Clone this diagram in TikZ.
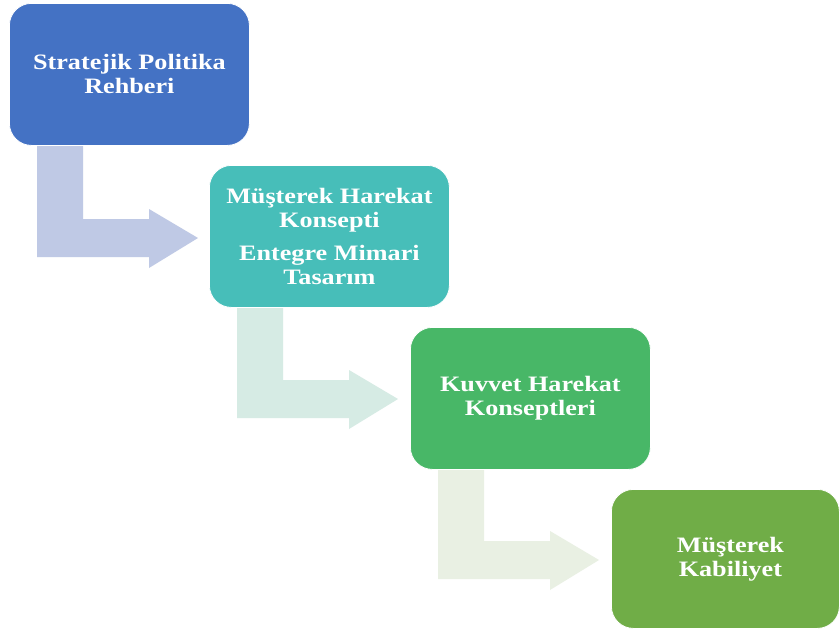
\documentclass[tikz,border=0pt]{standalone}
\usepackage{fontspec}
\setmainfont{Liberation Serif}
\definecolor{cBlue}{HTML}{4472C4}
\definecolor{cTeal}{HTML}{47BEB9}
\definecolor{cGreen}{HTML}{48B767}
\definecolor{cLeaf}{HTML}{70AD47}
\definecolor{aBlue}{HTML}{BFC9E5}
\definecolor{aTeal}{HTML}{D6EBE4}
\definecolor{aLeaf}{HTML}{E9F0E3}
\newcommand\wideline[1]{\scalebox{1.19}[1]{#1}}
\newcommand\pushline[1]{\hspace*{10pt}\scalebox{1.19}[1]{#1}}
\tikzset{
  stage/.style={rounded corners=22pt, draw=white, line width=0.8pt, fill=#1,
    minimum width=240pt, minimum height=142pt, anchor=north west,
    text=white, align=center, font=\bfseries\fontsize{22}{24}\selectfont, inner sep=0pt},
  bentarrow/.style={fill=#1, draw=none}
}
\begin{document}
\begin{tikzpicture}[x=1pt,y=-1pt]
\useasboundingbox (0,0) rectangle (840,632);
\fill[white] (0,0) rectangle (840,632);
% arrows (behind boxes)
\foreach \dx/\dy/\col in {0/0/aBlue,200/161/aTeal,401/322/aLeaf}{
  \begin{scope}[shift={(\dx pt,-\dy pt)}]
    \path[bentarrow=\col] (37,140) -- (83,140) -- (83,219) -- (149,219) -- (149,209)
      -- (198,238) -- (149,268) -- (149,257) -- (37,257) -- cycle;
  \end{scope}
}
\node[stage=cBlue] (b1) at (9,3) {\wideline{Stratejik Politika}\\\wideline{Rehberi}};
\node[stage=cTeal] (b2) at (209,165) {\wideline{Müşterek Harekat}\\\wideline{Konsepti}\\[9pt]\wideline{Entegre Mimari}\\\wideline{Tasarım}};
\node[stage=cGreen] (b3) at (410,327) {\wideline{Kuvvet Harekat}\\\wideline{Konseptleri}};
\node[stage=cLeaf, minimum width=228pt, minimum height=139pt, inner ysep=0pt] (b4) at (611,489) {\pushline{Müşterek}\\\pushline{Kabiliyet}};
\end{tikzpicture}
\end{document}
